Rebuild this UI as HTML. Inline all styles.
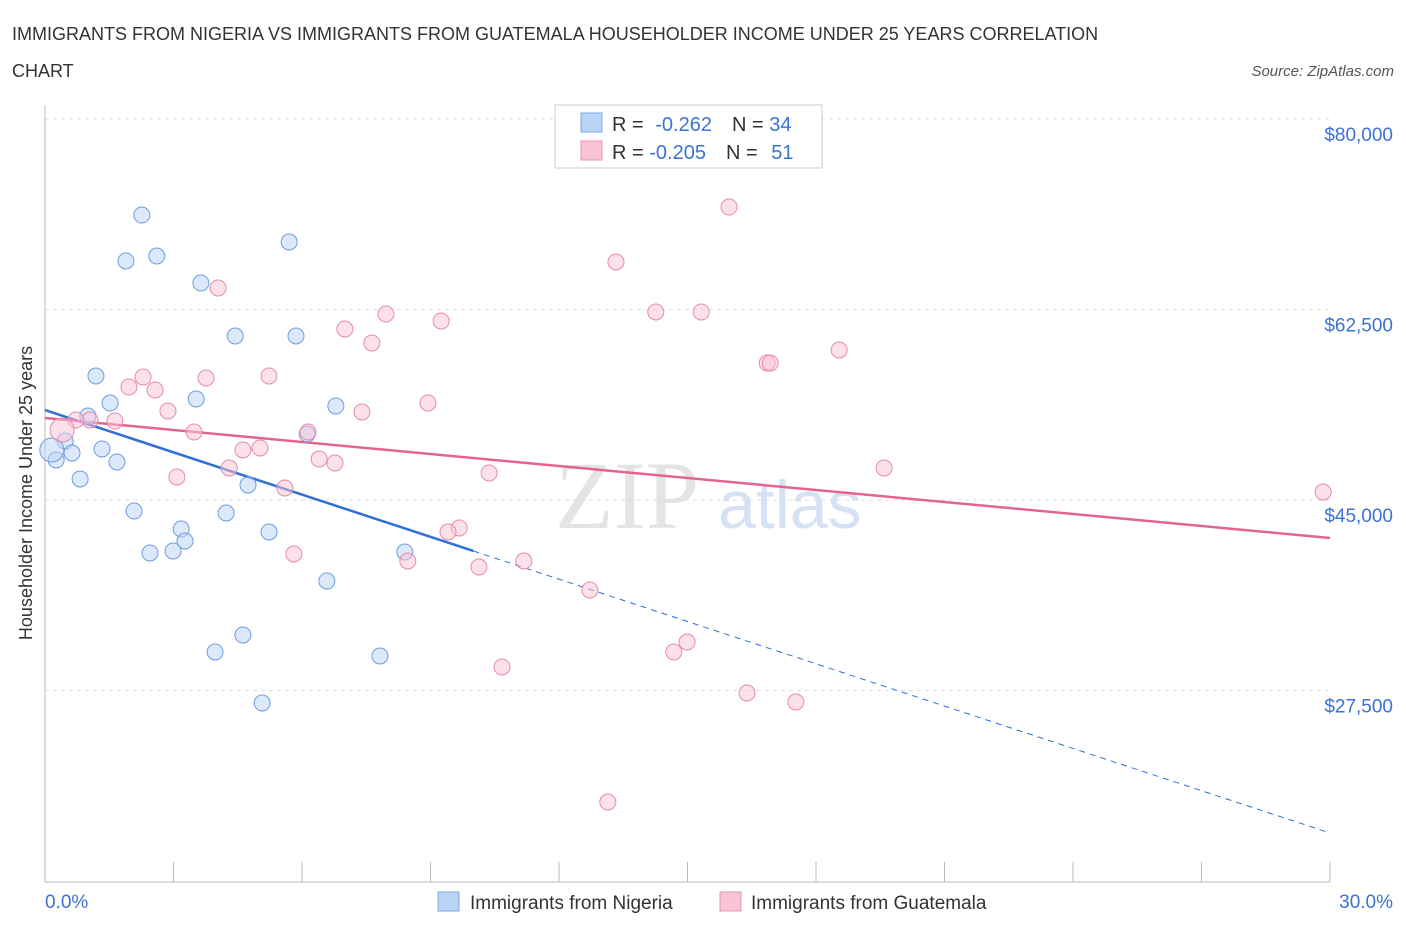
<!DOCTYPE html>
<html><head><meta charset="utf-8"><style>
body{margin:0;background:#fff;font-family:"Liberation Sans",sans-serif;}
</style></head><body>
<svg id="chart" width="1406" height="930" xmlns="http://www.w3.org/2000/svg">
<text x="12" y="40" font-size="18" fill="#333">IMMIGRANTS FROM NIGERIA VS IMMIGRANTS FROM GUATEMALA HOUSEHOLDER INCOME UNDER 25 YEARS CORRELATION</text>
<text x="12" y="77" font-size="18" fill="#333">CHART</text>
<text x="1394" y="76" font-size="15" fill="#555" font-style="italic" text-anchor="end">Source: ZipAtlas.com</text>
<text x="-493" y="32" transform="rotate(-90)" font-size="18" fill="#333" text-anchor="middle">Householder Income Under 25 years</text>
<text x="555" y="528" font-size="96" fill="#e4e4e4" font-family="Liberation Serif,serif">ZIP</text>
<text x="718" y="528" font-size="68" fill="#d6e2f4">atlas</text>
<g id="grid"></g><g id="axes"></g><g id="trend"></g><g id="pts"></g>
<rect x="555" y="105" width="267" height="63" fill="#fff" stroke="#ccc"/>
<rect x="581" y="113" width="21" height="19" fill="#b9d3f5" stroke="#7aa7e6"/>
<rect x="581" y="141" width="21" height="19" fill="#f9c4d5" stroke="#ec93b0"/>
<text x="612" y="131" font-size="20" fill="#333">R = <tspan fill="#3b72d6" dx="6">-0.262</tspan><tspan dx="20" fill="#333">N = </tspan><tspan fill="#3b72d6">34</tspan></text>
<text x="612" y="159" font-size="20" fill="#333">R = <tspan fill="#3b72d6">-0.205</tspan><tspan dx="20" fill="#333">N = </tspan><tspan fill="#3b72d6" dx="8">51</tspan></text>
<rect x="438" y="892" width="21" height="19" fill="#b9d3f5" stroke="#7aa7e6"/>
<text x="470" y="909" font-size="19" fill="#333">Immigrants from Nigeria</text>
<rect x="720" y="892" width="21" height="19" fill="#f9c4d5" stroke="#ec93b0"/>
<text x="751" y="909" font-size="19" fill="#333">Immigrants from Guatemala</text>
</svg>
<script>
const yTicks=[80000,62500,45000,27500];
const yTickLabels=["$80,000","$62,500","$45,000","$27,500"];
const xTickLabels=["0.0%","30.0%"];
const nigeriaX=[2.26,1.89,2.61,5.70,3.64,4.44,5.86,1.19,1.52,3.53,6.79,1.00,6.12,0.47,1.33,0.63,0.26,1.68,0.82,4.74,2.08,4.23,3.18,5.23,3.27,2.45,2.99,8.40,6.58,4.62,3.97,7.82,5.07,0.16];
const nigeriaY=[71180,66955,67414,68700,64934,60065,60065,56390,53910,54278,53635,52716,51063,50420,49685,49317,48674,48490,46929,46378,43990,43806,42336,42060,41234,40131,40315,40223,37559,32599,31037,30670,26352,49593];
const guatX=[15.97,13.33,4.04,7.96,14.26,15.32,9.25,7.00,7.63,18.54,16.86,16.93,5.23,2.29,3.76,1.96,2.57,8.94,2.87,7.40,1.05,1.63,0.72,3.48,6.14,5.02,4.62,6.40,6.77,4.30,19.59,10.37,3.08,5.60,9.67,9.41,5.81,8.47,11.18,10.13,12.72,14.99,14.68,10.67,16.39,17.53,13.14,29.84,0.40];
const guatY=[71915,66863,64475,62086,62270,62270,61443,60708,59422,58779,57585,57585,56391,56299,56207,55380,55105,53910,53176,53084,52349,52257,52349,51246,51246,49777,49593,48766,48399,47940,47940,47480,47113,46102,42428,42060,40040,39396,39396,38845,36733,31956,31037,29659,27271,26444,17258,45735,51430];
const nigeriaTrend=[53267,40315,14411];
const guatTrend=[52532,41509];
const NS="http://www.w3.org/2000/svg";
const X=p=>45+p/30*1285;
const Y=v=>500-(v-45000)*190.5/17500;
function mk(t,a,parent){const e=document.createElementNS(NS,t);for(const k in a)e.setAttribute(k,a[k]);document.getElementById(parent).appendChild(e);return e;}
yTicks.forEach((v,i)=>{
 const g=mk('line',{x1:45,x2:1330,y1:Y(v),y2:Y(v),stroke:'#ddd','stroke-dasharray':'4,4'},'grid');
 
 
 const t=mk('text',{x:1393,y:Y(v)+22,'font-size':19,fill:'#3b72d6','text-anchor':'end'},'grid');
 t.textContent=yTickLabels[i];
 
 
});
const ax=mk('line',{x1:45,x2:1330,y1:882,y2:882,stroke:'#bbb'},'axes');


const ay=mk('line',{x1:45,x2:45,y1:105,y2:882,stroke:'#bbb'},'axes');


for(let i=0;i<=10;i++){const x=45+i*128.5;const tk=mk('line',{x1:x,x2:x,y1:862,y2:882,stroke:'#bbb'},'axes');
 
 }
[[0,'start',45],[1,'end',1393]].forEach(([i,a,x])=>{const t=mk('text',{x:x,y:908,'font-size':19,fill:'#3b72d6','text-anchor':a},'axes');t.textContent=xTickLabels[i];
 
 });
const b1=mk('line',{x1:X(0),y1:Y(nigeriaTrend[0]),x2:X(10),y2:Y(nigeriaTrend[1]),stroke:'#2f6fd6','stroke-width':2.5},'trend');


const b2=mk('line',{x1:X(10),y1:Y(nigeriaTrend[1]),x2:X(30),y2:Y(nigeriaTrend[2]),stroke:'#2f6fd6','stroke-width':1,'stroke-dasharray':'6,5'},'trend');


const p1=mk('line',{x1:X(0),y1:Y(guatTrend[0]),x2:X(30),y2:Y(guatTrend[1]),stroke:'#e4648f','stroke-width':2.5},'trend');


function pts(xs,ys,fill,stroke,name,bigIdx){xs.forEach((x,i)=>{const r=i===bigIdx?12:8;const c=mk('circle',{cx:X(x),cy:Y(ys[i]),r:r,fill:fill,'fill-opacity':0.5,stroke:stroke,'stroke-width':1},'pts');
 
 });}
pts(nigeriaX,nigeriaY,'#b9d3f5','#6d9de0','nigeria-point',nigeriaX.length-1);
pts(guatX,guatY,'#f9c4d5','#e88aab','guatemala-point',guatX.length-1);
</script>
</body></html>
